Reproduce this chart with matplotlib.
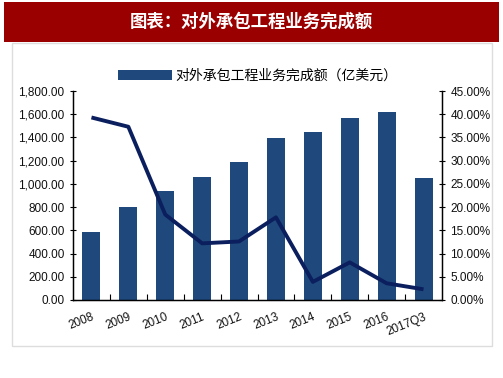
import matplotlib.pyplot as plt
from matplotlib.patches import Rectangle
from matplotlib.ticker import FuncFormatter

plt.rcParams['font.family'] = ['Liberation Sans', 'Noto Sans CJK SC', 'DejaVu Sans']

# 数据
years = ['2008', '2009', '2010', '2011', '2012', '2013', '2014', '2015', '2016', '2017Q3']
amount = [586, 799, 941, 1059, 1192, 1397, 1449, 1567, 1619, 1050]   # 亿美元
growth = [39.3, 37.3, 18.4, 12.2, 12.6, 17.8, 3.9, 8.1, 3.6, 2.3]     # %

fig = plt.figure(figsize=(5.03, 3.78), dpi=100)
fig.patch.set_facecolor('white')

# 红色标题栏和灰色边框
fig.add_artist(Rectangle((4 / 503, 1 - 42 / 378), 495 / 503, 40 / 378,
                         transform=fig.transFigure, facecolor='#9B0000', edgecolor='none'))
fig.text(0.5, 1 - 22 / 378, '图表：对外承包工程业务完成额', color='white', fontsize=12.5,
         fontweight='bold', ha='center', va='center',
         family=['Noto Sans CJK SC', 'DejaVu Sans'])
fig.add_artist(Rectangle((12 / 503, 1 - 346 / 378), 480 / 503, 303 / 378,
                         transform=fig.transFigure, facecolor='none', edgecolor='#DDDDDD', lw=1))

ax = fig.add_axes([73 / 503, 1 - 300 / 378, 369 / 503, 209 / 378])
x = range(len(years))
ax.bar(x, amount, width=0.49, color='#1F497D', label='对外承包工程业务完成额（亿美元）', zorder=2)
ax.set_xlim(-0.5, len(years) - 0.5)
ax.set_ylim(0, 1800)
ax.set_yticks(range(0, 1801, 200))
ax.yaxis.set_major_formatter(FuncFormatter(lambda v, p: f'{v:,.2f}'))
ax.set_xticks([i + 0.5 for i in range(len(years) - 1)], minor=False)
ax.set_xticklabels([])
ax.set_xticks(list(x), minor=True)
ax.set_xticklabels(years, minor=True, rotation=22, ha='right', rotation_mode='anchor')
ax.tick_params(axis='x', which='major', direction='in', length=4, width=0.8)
ax.tick_params(axis='x', which='minor', length=0, pad=8, labelsize=8.5, labelcolor='#111111')
ax.tick_params(axis='y', direction='inout', length=5, width=0.8, labelsize=8.5, labelcolor='#111111')
ax.spines['top'].set_visible(False)
for s in ['left', 'right', 'bottom']:
    ax.spines[s].set_linewidth(1.0)

ax2 = ax.twinx()
ax2.plot(list(x), growth, color='#0B1F5E', lw=2.8, solid_capstyle='butt', zorder=3)
ax2.set_ylim(0, 45)
ax2.set_yticks(range(0, 46, 5))
ax2.yaxis.set_major_formatter(FuncFormatter(lambda v, p: f'{v:.2f}%'))
ax2.tick_params(axis='y', direction='inout', length=5, width=0.8, labelsize=8.5, labelcolor='#111111')
ax2.spines['top'].set_visible(False)

leg = ax.legend(loc='lower center', bbox_to_anchor=(0.5, 1.0), frameon=False,
                handlelength=3.9, handleheight=0.8, handletextpad=0.2, borderaxespad=0.2,
                prop={'family': ['Noto Sans CJK SC', 'DejaVu Sans'], 'size': 10})

fig.savefig('out.png', dpi=100)
